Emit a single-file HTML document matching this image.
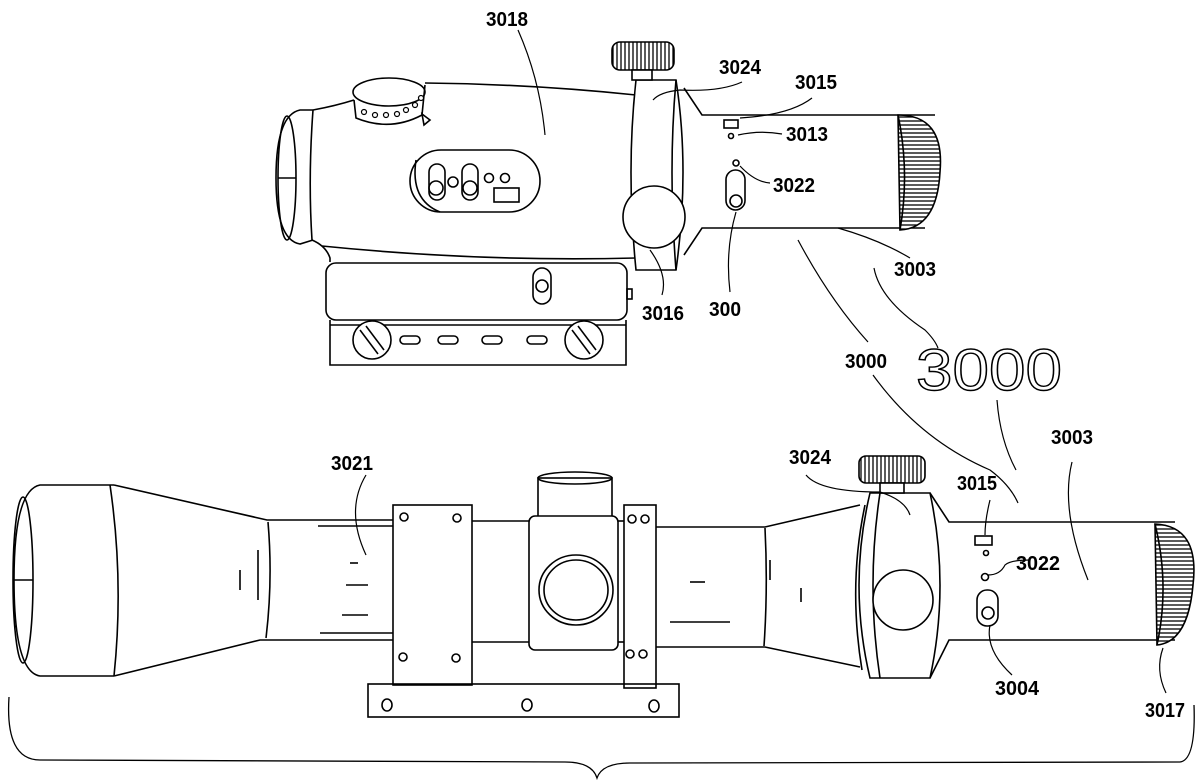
<!DOCTYPE html>
<html><head><meta charset="utf-8"><style>
html,body{margin:0;padding:0;background:#fff;}
svg{display:block;}
text{font-family:"Liberation Sans",sans-serif;font-size:20px;fill:#000;font-weight:bold;}
</style></head><body>
<svg width="1200" height="781" viewBox="0 0 1200 781" xmlns="http://www.w3.org/2000/svg">
<defs>
<pattern id="kn" width="4" height="4" patternUnits="userSpaceOnUse"><rect width="4" height="4" fill="#fff"/><line x1="1" y1="0" x2="1" y2="4" stroke="#000" stroke-width="1.3"/></pattern>
<pattern id="kh" width="4" height="4" patternUnits="userSpaceOnUse"><rect width="4" height="4" fill="#fff"/><line x1="0" y1="1" x2="4" y2="1" stroke="#000" stroke-width="1.3"/></pattern>
</defs>
<g fill="none" stroke="#000" stroke-width="1.6">
<path d="M313,110 L300,110 Q276,115 276,178 Q276,240 300,244 L313,240"/>
<ellipse cx="287" cy="178" rx="9" ry="62"/>
<line x1="278" y1="178" x2="296" y2="178"/>
<path d="M313,110 Q308,178 312,240"/>
<path d="M313,110 Q335,106 354,100"/>
<path d="M425,83 Q530,84 636,95"/>
<path d="M312,240 Q326,246 330,258 L330,262"/>
<path d="M322,246 Q480,262 636,258"/>
<path d="M354,100 L356,118 Q390,132 422,115 L425,85"/>
<ellipse cx="389" cy="92" rx="36" ry="14"/>
<g fill="#fff" stroke-width="1.2">
<circle cx="364" cy="112" r="2.5"/><circle cx="375" cy="115" r="2.5"/><circle cx="386" cy="115" r="2.5"/><circle cx="397" cy="114" r="2.5"/><circle cx="406" cy="110" r="2.5"/><circle cx="415" cy="105" r="2.5"/><circle cx="421" cy="98" r="2.5"/>
</g>
<path d="M422,114 L430,120 L424,125 Z"/>
<rect x="410" y="150" width="130" height="62" rx="31"/>
<path d="M416,160 Q410,200 440,212"/>
<rect x="429" y="164" width="16" height="36" rx="8"/><circle cx="436" cy="188" r="7"/>
<circle cx="453" cy="182" r="5"/>
<rect x="462" y="164" width="16" height="36" rx="8"/><circle cx="470" cy="188" r="7"/>
<circle cx="489" cy="178" r="4.5"/><circle cx="505" cy="178" r="4.5"/>
<rect x="494" y="188" width="25" height="14"/>
<path d="M636,80 L676,80 Q690,170 676,270 L636,270 Q626,170 636,80 Z" fill="#fff"/>
<path d="M676,80 Q668,170 676,270"/>
<rect x="612" y="42" width="62" height="28" rx="8" fill="url(#kn)"/>
<rect x="632" y="70" width="20" height="10" fill="#fff"/>
<circle cx="654" cy="217" r="31" fill="#fff"/>
<path d="M684,88 L702,115 L935,115"/>
<path d="M684,255 L702,228 L925,228"/>
<path d="M898,115 Q945,115 940,172 Q937,228 900,230 Z" fill="url(#kh)"/>
<path d="M898,115 Q910,172 900,230"/>
<rect x="724" y="120" width="14" height="8"/>
<circle cx="731" cy="136" r="2.5"/>
<circle cx="736" cy="163" r="3"/>
<rect x="726" y="170" width="19" height="40" rx="9.5"/><circle cx="736" cy="201" r="6"/>
<rect x="326" y="263" width="301" height="57" rx="10"/>
<rect x="627" y="289" width="5" height="10"/>
<rect x="533" y="268" width="18" height="36" rx="9"/><circle cx="542" cy="286" r="6"/>
<path d="M330,320 L330,365 L626,365 L626,320"/>
<line x1="330" y1="325" x2="626" y2="325"/>
<circle cx="372" cy="340" r="19" fill="#fff"/><line x1="360" y1="330" x2="378" y2="354"/><line x1="366" y1="326" x2="384" y2="350"/>
<circle cx="584" cy="340" r="19" fill="#fff"/><line x1="572" y1="330" x2="590" y2="354"/><line x1="578" y1="326" x2="596" y2="350"/>
<rect x="400" y="336" width="20" height="8" rx="4"/><rect x="438" y="336" width="20" height="8" rx="4"/>
<rect x="482" y="336" width="20" height="8" rx="4"/><rect x="527" y="336" width="20" height="8" rx="4"/>

<path d="M114,485 L40,485 Q14,490 14,580 Q14,672 40,676 L114,676"/>
<ellipse cx="23" cy="580" rx="10" ry="83"/>
<line x1="13" y1="580" x2="33" y2="580"/>
<path d="M110,485 Q124,580 114,676"/>
<path d="M114,485 L267,520 L393,520"/>
<path d="M114,676 L260,640 L393,640"/>
<path d="M268,522 Q273,580 266,638"/>
<line x1="318" y1="526" x2="393" y2="526"/><line x1="320" y1="633" x2="393" y2="633"/>
<line x1="346" y1="585" x2="368" y2="585"/><line x1="342" y1="615" x2="368" y2="615"/><line x1="350" y1="563" x2="358" y2="563"/>
<line x1="240" y1="570" x2="240" y2="590"/><line x1="258" y1="550" x2="258" y2="600"/>
<rect x="393" y="505" width="79" height="180"/>
<circle cx="404" cy="517" r="4"/><circle cx="457" cy="518" r="4"/><circle cx="403" cy="657" r="4"/><circle cx="456" cy="658" r="4"/>
<line x1="472" y1="521" x2="529" y2="521"/><line x1="472" y1="642" x2="529" y2="642"/>
<rect x="538" y="478" width="74" height="40"/>
<ellipse cx="575" cy="478" rx="37" ry="6"/>
<rect x="529" y="516" width="89" height="134" rx="6" fill="#fff"/>
<ellipse cx="576" cy="590" rx="37" ry="35"/><ellipse cx="576" cy="590" rx="32" ry="30"/>
<line x1="618" y1="521" x2="624" y2="521"/><line x1="618" y1="642" x2="624" y2="642"/>
<rect x="624" y="505" width="32" height="183"/>
<circle cx="632" cy="519" r="4"/><circle cx="645" cy="519" r="4"/><circle cx="630" cy="654" r="4"/><circle cx="643" cy="654" r="4"/>
<rect x="368" y="684" width="311" height="33"/>
<ellipse cx="387" cy="705" rx="5" ry="6"/><ellipse cx="527" cy="705" rx="5" ry="6"/><ellipse cx="654" cy="706" rx="5" ry="6"/>
<path d="M656,527 L765,527 L860,505"/>
<path d="M656,647 L765,647 L860,667"/>
<path d="M765,528 Q768,588 764,646"/>
<line x1="670" y1="622" x2="730" y2="622"/><line x1="690" y1="582" x2="705" y2="582"/><line x1="801" y1="588" x2="801" y2="602"/><line x1="770" y1="560" x2="770" y2="580"/>
<path d="M870,493 L930,493 Q950,585 930,678 L870,678 Q848,585 870,493 Z" fill="#fff"/>
<path d="M865,505 Q848,585 862,670"/>
<path d="M880,493 Q866,585 880,678"/>
<rect x="859" y="456" width="66" height="27" rx="7" fill="url(#kn)"/>
<rect x="880" y="483" width="24" height="10" fill="#fff"/>
<circle cx="903" cy="600" r="30" fill="#fff"/>
<path d="M930,493 L949,522 L1175,522"/>
<path d="M930,678 L949,640 L1175,640"/>
<path d="M1155,524 Q1200,526 1193,585 Q1188,642 1157,645 Z" fill="url(#kh)"/>
<path d="M1155,524 Q1170,585 1157,645"/>
<rect x="975" y="536" width="17" height="9"/>
<circle cx="986" cy="553" r="2.5"/>
<circle cx="985" cy="577" r="3.5"/>
<rect x="977" y="590" width="21" height="36" rx="10"/><circle cx="988" cy="613" r="6"/>

<g stroke-width="1.2">
<path d="M518,30 Q540,80 545,135"/>
<path d="M742,82 Q720,92 680,90 Q660,92 653,100"/>
<path d="M812,98 Q790,115 740,118"/>
<path d="M738,135 Q760,130 782,134"/>
<path d="M740,166 Q755,182 770,183"/>
<path d="M838,228 Q880,240 910,258"/>
<path d="M650,250 Q668,275 662,295"/>
<path d="M736,212 Q725,250 730,292"/>
<path d="M798,240 Q830,300 868,342"/>
<path d="M874,268 Q880,300 925,330 Q935,340 938,348"/>
<path d="M873,375 Q920,440 990,470 Q1010,485 1018,503"/>
<path d="M997,400 Q1000,440 1016,470"/>
<path d="M366,475 Q345,510 366,555"/>
<path d="M806,475 Q820,492 880,492 Q905,500 910,515"/>
<path d="M990,500 Q985,520 985,535"/>
<path d="M988,575 Q1000,575 1005,565 Q1010,560 1030,560"/>
<path d="M1072,462 Q1060,510 1088,580"/>
<path d="M990,625 Q985,650 1012,675"/>
<path d="M1163,648 Q1155,670 1166,693"/>
</g>
<path d="M9,697 Q5,760 40,760 L565,762 Q592,762 597,778 Q602,763 630,763 L1180,762 Q1196,760 1194,705" stroke-width="1.3"/>
</g>
<text x="486" y="26" textLength="42" lengthAdjust="spacingAndGlyphs">3018</text>
<text x="719" y="74" textLength="42" lengthAdjust="spacingAndGlyphs">3024</text>
<text x="795" y="89" textLength="42" lengthAdjust="spacingAndGlyphs">3015</text>
<text x="786" y="141" textLength="42" lengthAdjust="spacingAndGlyphs">3013</text>
<text x="773" y="192" textLength="42" lengthAdjust="spacingAndGlyphs">3022</text>
<text x="894" y="276" textLength="42" lengthAdjust="spacingAndGlyphs">3003</text>
<text x="642" y="320" textLength="42" lengthAdjust="spacingAndGlyphs">3016</text>
<text x="709" y="316" textLength="32" lengthAdjust="spacingAndGlyphs">300</text>
<text x="845" y="368" textLength="42" lengthAdjust="spacingAndGlyphs">3000</text>
<text x="916" y="390" style="font-size:58px;font-weight:normal;fill:none;stroke:#000;stroke-width:1.4" textLength="146" lengthAdjust="spacingAndGlyphs">3000</text>
<text x="331" y="470" textLength="42" lengthAdjust="spacingAndGlyphs">3021</text>
<text x="789" y="464" textLength="42" lengthAdjust="spacingAndGlyphs">3024</text>
<text x="957" y="490" textLength="40" lengthAdjust="spacingAndGlyphs">3015</text>
<text x="1051" y="444" textLength="42" lengthAdjust="spacingAndGlyphs">3003</text>
<text x="1016" y="570" textLength="44" lengthAdjust="spacingAndGlyphs">3022</text>
<text x="995" y="695" textLength="44" lengthAdjust="spacingAndGlyphs">3004</text>
<text x="1145" y="717" textLength="40" lengthAdjust="spacingAndGlyphs">3017</text>
</svg>
</body></html>
